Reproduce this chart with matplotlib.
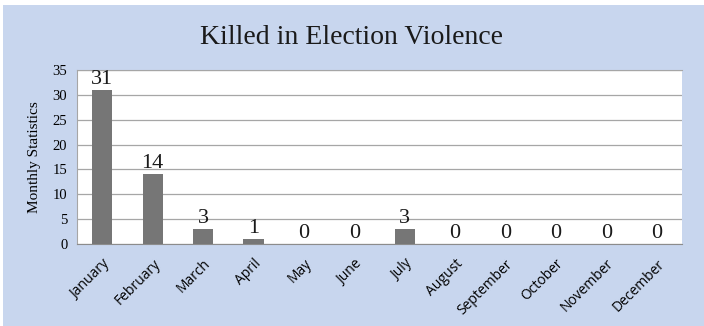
import matplotlib
matplotlib.use("Agg")
from matplotlib import pyplot as plt

months = ["January", "February", "March", "April", "May", "June", "July",
          "August", "September", "October", "November", "December"]
killed = [31, 14, 3, 1, 0, 0, 3, 0, 0, 0, 0, 0]
yticks = [0, 5, 10, 15, 20, 25, 30, 35]

fig = plt.figure(figsize=(7.04, 3.26), dpi=100)
fig.patch.set_facecolor("white")
# background panel
bg = fig.add_axes([3 / 704, 0, 701 / 704, 321 / 326])
bg.set_facecolor("#c8d6ee")
bg.set_xticks([])
bg.set_yticks([])
for s in bg.spines.values():
    s.set_visible(False)

ax = fig.add_axes([77 / 704, 1 - 244 / 326, 605 / 704, 174 / 326])
ax.set_facecolor("white")
x = list(range(len(months)))
ax.bar(x, killed, width=0.4, color="#767676", zorder=3)
ax.set_xlim(-0.5, len(months) - 0.5)
ax.set_ylim(0, 35)
ax.set_yticks(yticks)
ax.set_yticklabels([str(v) for v in yticks], family="Liberation Serif", fontsize=10.5)
ax.yaxis.grid(True, color="#a6a6a6", linewidth=0.9, zorder=0)
ax.tick_params(axis="y", length=0, pad=7)
ax.tick_params(axis="x", length=0, pad=9)
ax.set_xticks(x)
ax.set_xticklabels(months, rotation=45, ha="right", rotation_mode="anchor",
                   family="Open Sans", fontsize=10)
for s in ax.spines.values():
    s.set_color("#a6a6a6")
ax.spines["right"].set_visible(False)
ax.spines["bottom"].set_color("#8c8c8c")

for xi, v in zip(x, killed):
    ax.text(xi, v + 0.2, str(v), ha="center", va="bottom",
            family="Liberation Serif", fontsize=16, color="#1a1a1a")

ax.set_ylabel("Monthly Statistics", family="Liberation Serif", fontsize=11, labelpad=8)
fig.text(0.5, 1 - 38 / 326, "Killed in Election Violence", ha="center", va="center",
         family="Liberation Serif", fontsize=20, color="#1a1a1a")

fig.savefig("out.png", dpi=100)
